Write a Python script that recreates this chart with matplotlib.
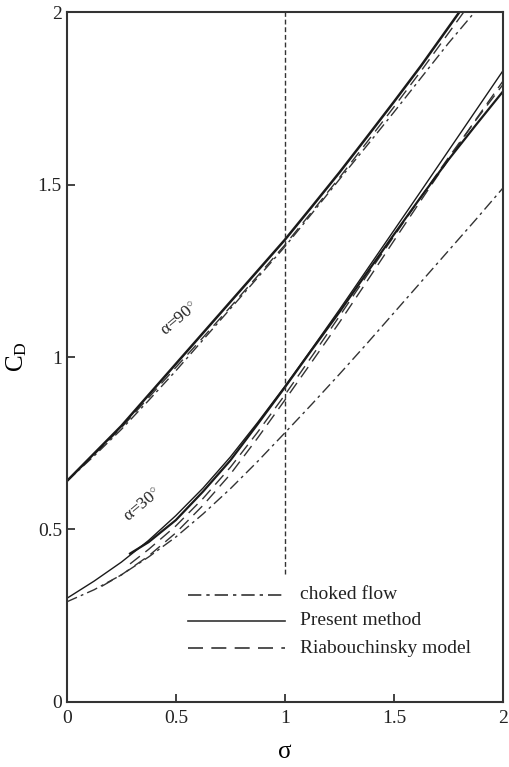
import matplotlib
matplotlib.use("Agg")
import matplotlib.pyplot as plt

plt.rcParams['font.family'] = ['Liberation Serif', 'DejaVu Serif']
plt.rcParams['mathtext.fontset'] = 'custom'
plt.rcParams['mathtext.rm'] = 'Liberation Serif'
plt.rcParams['mathtext.it'] = 'Liberation Serif'

# alpha = 90 deg
s90_present = [0, 0.125, 0.25, 0.375, 0.5, 0.625, 0.75, 0.875, 1.0, 1.125, 1.25, 1.375, 1.5, 1.625, 1.80]
cd90_present = [0.64, 0.72, 0.80, 0.89, 0.98, 1.07, 1.16, 1.25, 1.34, 1.437, 1.535, 1.637, 1.74, 1.845, 2.0]
s90_riab = [0, 0.125, 0.25, 0.375, 0.5, 0.625, 0.75, 0.875, 1.0, 1.125, 1.25, 1.375, 1.5, 1.625, 1.82]
cd90_riab = [0.64, 0.717, 0.795, 0.882, 0.97, 1.057, 1.145, 1.235, 1.325, 1.422, 1.52, 1.622, 1.725, 1.83, 2.0]
s90_choked = [0, 0.125, 0.25, 0.375, 0.5, 0.625, 0.75, 0.875, 1.0, 1.125, 1.25, 1.375, 1.5, 1.625, 1.75, 1.87]
cd90_choked = [0.64, 0.713, 0.79, 0.874, 0.96, 1.05, 1.14, 1.23, 1.32, 1.417, 1.515, 1.612, 1.71, 1.81, 1.91, 2.0]

# alpha = 30 deg
s30_present_a = [0, 0.125, 0.25, 0.375, 0.5, 0.625, 0.75, 0.875, 1.0, 1.125, 1.25, 1.375, 1.5, 1.625, 1.75, 1.875, 2.0]
cd30_present_a = [0.30, 0.35, 0.405, 0.468, 0.54, 0.62, 0.71, 0.81, 0.915, 1.025, 1.137, 1.252, 1.367, 1.482, 1.598, 1.714, 1.83]
s30_present_b = [0.29, 0.375, 0.5, 0.625, 0.75, 0.875, 1.0, 1.125, 1.25, 1.375, 1.5, 1.625, 1.75, 1.875, 2.0]
cd30_present_b = [0.43, 0.463, 0.527, 0.61, 0.70, 0.805, 0.912, 1.022, 1.13, 1.243, 1.355, 1.465, 1.572, 1.672, 1.77]
s30_riab_a = [0.16, 0.25, 0.375, 0.5, 0.625, 0.75, 0.875, 1.0, 1.125, 1.25, 1.375, 1.5, 1.625, 1.75, 1.875, 2.0]
cd30_riab_a = [0.335, 0.368, 0.423, 0.49, 0.57, 0.66, 0.765, 0.875, 0.987, 1.10, 1.218, 1.337, 1.455, 1.572, 1.688, 1.80]
s30_riab_b = [0.29, 0.375, 0.5, 0.625, 0.75, 0.875, 1.0, 1.125, 1.25, 1.375, 1.5, 1.625, 1.75, 1.875, 2.0]
cd30_riab_b = [0.40, 0.442, 0.51, 0.59, 0.68, 0.782, 0.89, 1.003, 1.118, 1.235, 1.35, 1.465, 1.578, 1.686, 1.79]
s30_choked = [0, 0.125, 0.25, 0.375, 0.5, 0.625, 0.75, 0.875, 1.0, 1.125, 1.25, 1.375, 1.5, 1.625, 1.75, 1.875, 2.0]
cd30_choked = [0.29, 0.325, 0.368, 0.42, 0.478, 0.545, 0.618, 0.697, 0.78, 0.864, 0.95, 1.038, 1.128, 1.218, 1.308, 1.398, 1.49]

x_ticks = [0, 0.5, 1, 1.5, 2]
x_ticklabels = ['0', '0.5', '1', '1.5', '2']
y_ticks = [0, 0.5, 1, 1.5, 2]
y_ticklabels = ['0', '0.5', '1', '1.5', '2']

fig = plt.figure(figsize=(5.10, 7.67), dpi=100)
ax = fig.add_axes([0.131, 0.085, 0.855, 0.899])

c = '#1a1a1a'
dd = (0, (8, 3, 2, 3))
dsh = (0, (9, 5))

ax.plot(s90_choked, cd90_choked, color='#333333', lw=1.0, linestyle=dd)
ax.plot(s90_riab, cd90_riab, color='#333333', lw=1.0, linestyle=dsh)
ax.plot(s90_present, cd90_present, color=c, lw=1.8)

ax.plot(s30_choked, cd30_choked, color='#333333', lw=1.0, linestyle=dd)
ax.plot(s30_riab_a, cd30_riab_a, color='#333333', lw=1.0, linestyle=dsh)
ax.plot(s30_riab_b, cd30_riab_b, color='#333333', lw=1.0, linestyle=dsh)
ax.plot(s30_present_a, cd30_present_a, color=c, lw=1.0)
ax.plot(s30_present_b, cd30_present_b, color=c, lw=1.6)

ax.plot([1, 1], [0.37, 2.0], color='#333333', lw=1.0, linestyle=(0, (3.5, 2)))

# legend drawn as lines + text in data coords
leg_y = [0.31, 0.235, 0.155]
leg_styles = [dd, '-', dsh]
leg_labels = ['choked flow', 'Present method', 'Riabouchinsky model']
for yy, st, lab in zip(leg_y, leg_styles, leg_labels):
    ax.plot([0.555, 1.0], [yy, yy], color='#333333', lw=1.2, linestyle=st)
    ax.text(1.07, yy, lab, fontsize=14, va='center', ha='left', color='#222222')

ax.text(0.52, 1.11, r'$\alpha$=90$^{\circ}$', rotation=40, fontsize=12.5,
        ha='center', va='center', color='#222222')
ax.text(0.35, 0.57, r'$\alpha$=30$^{\circ}$', rotation=40, fontsize=12.5,
        ha='center', va='center', color='#222222')

ax.set_xlim(0, 2)
ax.set_ylim(0, 2)
ax.set_xticks(x_ticks)
ax.set_xticklabels(x_ticklabels)
ax.set_yticks(y_ticks)
ax.set_yticklabels(y_ticklabels)
ax.tick_params(direction='in', length=6, width=1.2, labelsize=14, colors='#222222')
ax.tick_params(axis='x', pad=6)
for sp in ax.spines.values():
    sp.set_linewidth(1.5)
    sp.set_color('#333333')

ax.set_xlabel(r'$\sigma$', fontsize=18, labelpad=10)
ax.set_ylabel(r'$\mathregular{C_D}$', fontsize=18, labelpad=6)

fig.savefig('out.png', dpi=100)
